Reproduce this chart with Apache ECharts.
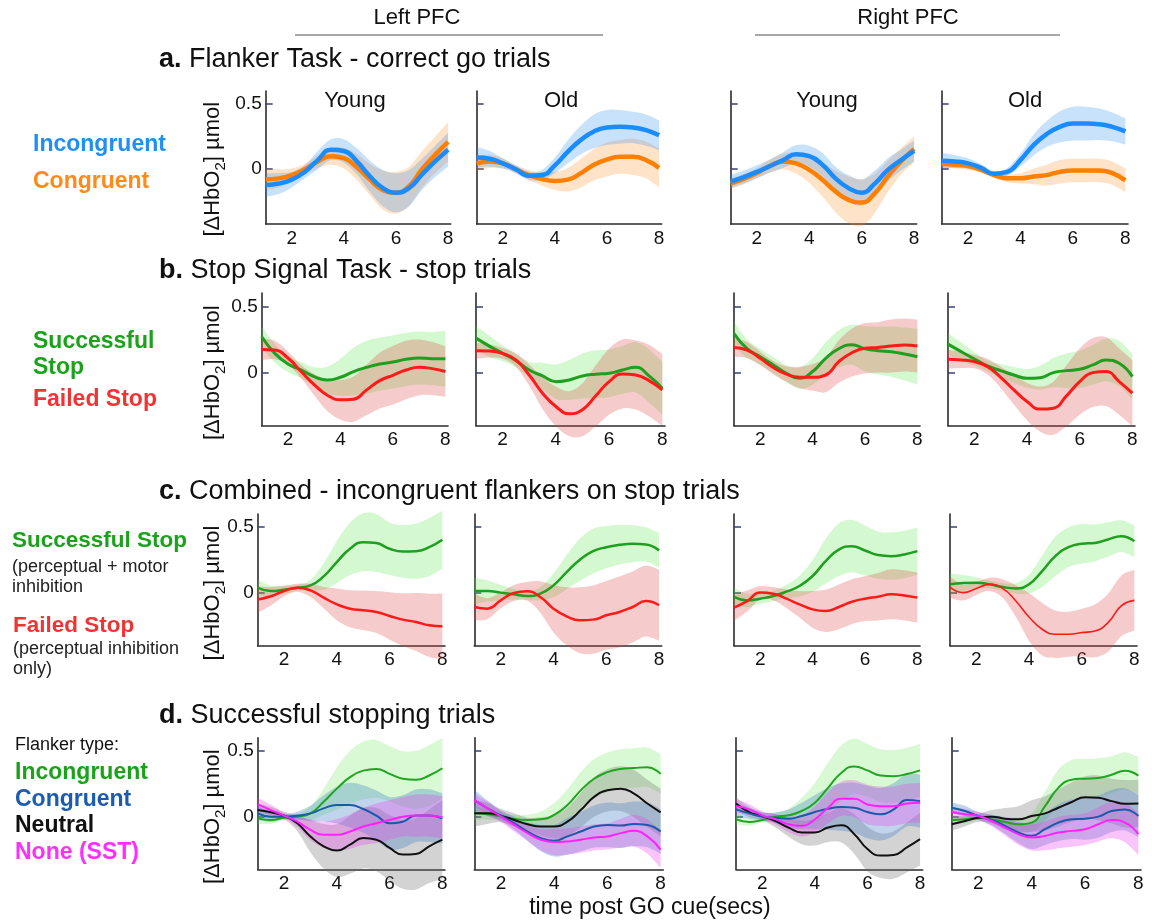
<!DOCTYPE html>
<html><head><meta charset="utf-8">
<script src="https://cdn.jsdelivr.net/npm/echarts@6/dist/echarts.min.js"></script>
<style>html,body{margin:0;padding:0;background:#fff}#c{width:1152px;height:923px}</style>
</head><body><div id="c"></div>
<script>
// ---------------- DATA ----------------
const xs = [1,1.5,2,2.5,3,3.5,4,4.5,5,5.5,6,6.5,7,7.5,8];
const xTicks = [2,4,6,8];
const yTicks = [0,0.5];
const regionNames = ['Left PFC','Right PFC'];
const colTitles = ['Young','Old','Young','Old'];
const rowTitles = [['a.',' Flanker Task - correct go trials'],['b.',' Stop Signal Task - stop trials'],['c.',' Combined - incongruent flankers on stop trials'],['d.',' Successful stopping trials']];
const yNameParts = ['[ΔHbO', '2', '] µmol'];
const xName = 'time post GO cue(secs)';

// row a: Flanker task (blue = incongruent, orange = congruent); one array per panel
const aIncMean = [
 [-0.12,-0.11,-0.08,-0.02,0.07,0.15,0.14,0.06,-0.055,-0.145,-0.18,-0.145,-0.04,0.06,0.15],
 [0.09,0.08,0.045,0,-0.05,-0.045,0.03,0.135,0.225,0.29,0.32,0.325,0.32,0.3,0.26],
 [-0.095,-0.06,-0.02,0.025,0.07,0.115,0.1,0.035,-0.07,-0.145,-0.18,-0.11,-0.005,0.07,0.14],
 [0.065,0.06,0.045,0.01,-0.035,-0.02,0.07,0.185,0.27,0.325,0.35,0.35,0.345,0.325,0.29]];
const aIncErr = [
 [0.09,0.08,0.06,0.05,0.07,0.08,0.09,0.1,0.12,0.14,0.15,0.14,0.12,0.12,0.13],
 [0.08,0.06,0.04,0.03,0.03,0.04,0.06,0.09,0.11,0.13,0.135,0.13,0.12,0.12,0.115],
 [0.05,0.05,0.05,0.05,0.06,0.07,0.08,0.09,0.09,0.1,0.1,0.1,0.09,0.08,0.08],
 [0.06,0.05,0.04,0.03,0.02,0.03,0.05,0.08,0.1,0.12,0.13,0.13,0.12,0.11,0.1]];
const aConMean = [
 [-0.077,-0.07,-0.045,0,0.06,0.1,0.085,0.015,-0.08,-0.16,-0.18,-0.13,0,0.11,0.21],
 [0.045,0.06,0.045,0,-0.045,-0.075,-0.09,-0.08,-0.03,0.035,0.075,0.095,0.095,0.07,0.01],
 [-0.11,-0.075,-0.03,0.025,0.06,0.045,-0.005,-0.08,-0.17,-0.235,-0.255,-0.185,-0.055,0.06,0.155],
 [0.04,0.035,0.025,-0.005,-0.045,-0.07,-0.07,-0.055,-0.045,-0.02,-0.01,-0.01,-0.01,-0.03,-0.085]];
const aConErr = [
 [0.08,0.07,0.05,0.04,0.05,0.065,0.08,0.1,0.12,0.15,0.16,0.15,0.14,0.14,0.15],
 [0.06,0.05,0.04,0.03,0.04,0.05,0.07,0.09,0.11,0.12,0.13,0.13,0.14,0.14,0.15],
 [0.04,0.04,0.04,0.05,0.06,0.08,0.1,0.13,0.16,0.18,0.18,0.15,0.12,0.1,0.1],
 [0.03,0.03,0.03,0.02,0.02,0.03,0.04,0.06,0.08,0.09,0.09,0.09,0.09,0.09,0.09]];

// row b: stop signal task (green = successful stop, red = failed stop)
const bSucMean = [
 [0.27,0.145,0.065,0.02,-0.03,-0.055,-0.035,0.008,0.04,0.065,0.08,0.1,0.11,0.105,0.105],
 [0.26,0.2,0.145,0.09,0.02,-0.025,-0.068,-0.055,-0.025,-0.012,-0.005,0.02,0.04,-0.025,-0.118],
 [0.295,0.18,0.12,0.058,-0.005,-0.043,0.008,0.108,0.18,0.21,0.18,0.165,0.158,0.14,0.12],
 [0.215,0.158,0.103,0.05,0.015,-0.018,-0.043,-0.038,0,0.015,0.025,0.058,0.095,0.07,-0.03]];
const bSucErr = [
 [0.08,0.07,0.06,0.06,0.07,0.1,0.14,0.18,0.2,0.2,0.2,0.2,0.2,0.2,0.21],
 [0.09,0.08,0.06,0.05,0.06,0.1,0.13,0.15,0.17,0.18,0.18,0.18,0.19,0.2,0.2],
 [0.09,0.07,0.06,0.06,0.06,0.08,0.1,0.12,0.14,0.15,0.17,0.18,0.19,0.2,0.21],
 [0.08,0.07,0.05,0.04,0.05,0.06,0.07,0.09,0.11,0.13,0.14,0.15,0.16,0.17,0.17]];
const bFaiMean = [
 [0.175,0.17,0.11,0.008,-0.09,-0.17,-0.205,-0.2,-0.13,-0.06,-0.02,0.02,0.04,0.03,0.008],
 [0.165,0.163,0.145,0.095,-0.018,-0.155,-0.255,-0.31,-0.28,-0.175,-0.068,-0.01,-0.018,-0.06,-0.13],
 [0.19,0.17,0.108,0.038,-0.012,-0.035,-0.035,-0.018,0.083,0.15,0.183,0.19,0.2,0.208,0.2],
 [0.1,0.095,0.083,0.045,-0.035,-0.13,-0.218,-0.275,-0.268,-0.175,-0.068,0,0.008,-0.068,-0.155]];
const bFaiErr = [
 [0.08,0.07,0.05,0.05,0.08,0.12,0.15,0.17,0.19,0.21,0.22,0.22,0.21,0.2,0.19],
 [0.06,0.05,0.04,0.05,0.08,0.12,0.15,0.17,0.2,0.23,0.25,0.26,0.26,0.27,0.27],
 [0.07,0.06,0.05,0.05,0.06,0.08,0.1,0.13,0.16,0.18,0.19,0.19,0.2,0.2,0.2],
 [0.07,0.06,0.05,0.06,0.08,0.11,0.14,0.17,0.2,0.23,0.25,0.26,0.26,0.25,0.25]];

// row c: combined (green = successful stop, red = failed stop)
const cSucMean = [
 [0.04,0.015,0.025,0.04,0.058,0.126,0.235,0.336,0.386,0.379,0.336,0.316,0.318,0.348,0.404],
 [0.015,0.015,0.003,-0.01,-0.023,-0.005,0.058,0.159,0.253,0.318,0.348,0.366,0.374,0.369,0.323],
 [-0.03,-0.056,-0.043,-0.023,0.01,0.053,0.129,0.242,0.33,0.356,0.323,0.288,0.28,0.293,0.318],
 [0.066,0.076,0.078,0.066,0.045,0.035,0.066,0.167,0.28,0.348,0.374,0.38,0.407,0.432,0.394]];
const cSucErr = [
 [0.06,0.04,0.03,0.02,0.04,0.1,0.16,0.2,0.22,0.22,0.2,0.2,0.21,0.22,0.22],
 [0.1,0.08,0.06,0.04,0.03,0.05,0.09,0.13,0.16,0.17,0.16,0.15,0.14,0.13,0.13],
 [0.07,0.05,0.04,0.04,0.05,0.08,0.12,0.17,0.2,0.2,0.19,0.18,0.18,0.18,0.18],
 [0.08,0.06,0.04,0.03,0.03,0.04,0.07,0.12,0.15,0.15,0.15,0.14,0.13,0.12,0.12]];
const cFaiMean = [
 [-0.05,-0.025,0.015,0.04,0.02,-0.035,-0.086,-0.119,-0.131,-0.144,-0.174,-0.202,-0.22,-0.245,-0.253],
 [-0.106,-0.119,-0.056,0,0.013,-0.03,-0.119,-0.177,-0.207,-0.202,-0.169,-0.144,-0.106,-0.061,-0.093],
 [-0.111,-0.061,0.003,-0.005,-0.043,-0.086,-0.124,-0.136,-0.106,-0.066,-0.043,-0.028,-0.01,-0.018,-0.035],
 [0.045,0.003,0.035,0.066,0.035,-0.061,-0.182,-0.275,-0.313,-0.313,-0.3,-0.288,-0.225,-0.098,-0.056]];
const cFaiErr = [
 [0.1,0.07,0.04,0.03,0.05,0.08,0.12,0.14,0.15,0.16,0.18,0.2,0.22,0.24,0.25],
 [0.1,0.08,0.06,0.06,0.07,0.12,0.18,0.22,0.25,0.26,0.26,0.27,0.27,0.27,0.27],
 [0.1,0.08,0.05,0.05,0.07,0.1,0.14,0.16,0.17,0.17,0.17,0.18,0.19,0.19,0.19],
 [0.08,0.06,0.05,0.05,0.07,0.12,0.18,0.2,0.18,0.17,0.18,0.2,0.22,0.23,0.23]];

// row d: successful stopping by flanker type
const dIncMean = [
 [-0.013,-0.025,-0.008,0,0.025,0.113,0.213,0.3,0.35,0.363,0.325,0.288,0.28,0.313,0.368],
 [0.025,0.018,0,-0.018,-0.025,-0.02,0.013,0.088,0.2,0.288,0.338,0.363,0.37,0.375,0.325],
 [-0.02,-0.04,-0.025,0,0.01,0.043,0.106,0.219,0.332,0.382,0.352,0.312,0.307,0.324,0.352],
 [-0.025,-0.02,-0.008,-0.02,-0.04,-0.058,-0.045,0.08,0.219,0.281,0.289,0.294,0.319,0.349,0.312]];
const dIncErr = [
 [0.04,0.03,0.02,0.02,0.05,0.1,0.16,0.2,0.22,0.22,0.21,0.21,0.22,0.23,0.23],
 [0.05,0.04,0.03,0.03,0.04,0.06,0.09,0.12,0.14,0.15,0.15,0.15,0.15,0.15,0.15],
 [0.04,0.03,0.02,0.03,0.05,0.1,0.15,0.19,0.21,0.21,0.2,0.2,0.2,0.2,0.2],
 [0.03,0.03,0.02,0.03,0.04,0.05,0.07,0.11,0.14,0.15,0.15,0.15,0.14,0.14,0.14]];
const dConMean = [
 [0.025,0,0,0.008,0.025,0.063,0.088,0.088,0.058,0.008,-0.05,-0.038,0.008,0.008,-0.013],
 [0.125,0.063,0.008,-0.05,-0.113,-0.163,-0.183,-0.15,-0.113,-0.075,-0.063,-0.068,-0.055,-0.063,-0.113],
 [0.055,0.025,0,-0.008,-0.015,0.005,0.035,0.06,0.073,0.068,0.035,0.018,0.055,0.126,0.118],
 [0.068,0.043,0.005,-0.025,-0.07,-0.12,-0.146,-0.095,-0.045,-0.02,-0.015,0,0.043,0.055,0.005]];
const dConErr = [
 [0.05,0.04,0.02,0.03,0.06,0.1,0.14,0.17,0.18,0.19,0.2,0.2,0.2,0.2,0.19],
 [0.08,0.06,0.04,0.05,0.07,0.1,0.12,0.14,0.15,0.16,0.17,0.17,0.17,0.17,0.17],
 [0.05,0.04,0.03,0.04,0.07,0.1,0.13,0.16,0.18,0.19,0.2,0.2,0.2,0.2,0.2],
 [0.04,0.04,0.03,0.04,0.06,0.08,0.1,0.12,0.14,0.15,0.16,0.16,0.16,0.16,0.16]];
const dNeuMean = [
 [0.05,0.033,0.008,-0.05,-0.15,-0.225,-0.258,-0.213,-0.163,-0.175,-0.238,-0.288,-0.283,-0.225,-0.175],
 [0.025,0.025,0.008,-0.025,-0.058,-0.075,-0.075,-0.038,0.05,0.15,0.2,0.213,0.175,0.1,0.033],
 [0.1,0.035,0.005,-0.033,-0.083,-0.12,-0.12,-0.083,-0.065,-0.133,-0.246,-0.296,-0.291,-0.234,-0.171],
 [-0.058,-0.033,-0.008,0,-0.015,-0.02,0.005,0.025,0.068,0.111,0.148,0.143,0.118,0.098,0.1]];
const dNeuErr = [
 [0.05,0.04,0.03,0.06,0.12,0.17,0.2,0.22,0.23,0.24,0.25,0.26,0.27,0.28,0.3],
 [0.1,0.08,0.05,0.05,0.05,0.07,0.09,0.11,0.13,0.15,0.16,0.17,0.18,0.18,0.18],
 [0.05,0.04,0.03,0.05,0.07,0.09,0.1,0.11,0.13,0.15,0.17,0.17,0.18,0.19,0.2],
 [0.05,0.04,0.03,0.05,0.08,0.1,0.12,0.13,0.14,0.15,0.16,0.17,0.17,0.18,0.18]];
const dNonMean = [
 [0.093,0.05,0.008,-0.038,-0.1,-0.138,-0.138,-0.113,-0.075,-0.05,-0.025,0,0.008,0.008,-0.005],
 [0.125,0.063,0,-0.063,-0.125,-0.175,-0.193,-0.188,-0.175,-0.158,-0.15,-0.125,-0.108,-0.15,-0.25],
 [0.08,0.055,0.01,-0.02,-0.058,-0.07,-0.02,0.068,0.136,0.136,0.093,0.08,0.08,0.1,0.106],
 [0.035,0.018,0.005,-0.033,-0.083,-0.133,-0.158,-0.146,-0.12,-0.108,-0.095,-0.058,-0.025,-0.045,-0.133]];
const dNonErr = [
 [0.05,0.04,0.02,0.04,0.08,0.1,0.12,0.13,0.14,0.15,0.15,0.15,0.16,0.16,0.16],
 [0.05,0.05,0.04,0.05,0.06,0.08,0.1,0.1,0.1,0.1,0.1,0.11,0.12,0.13,0.14],
 [0.05,0.04,0.03,0.04,0.06,0.08,0.1,0.12,0.13,0.14,0.15,0.15,0.15,0.15,0.15],
 [0.04,0.04,0.03,0.04,0.06,0.08,0.1,0.11,0.12,0.12,0.12,0.13,0.14,0.15,0.16]];

// ---------------- LAYOUT / STYLE ----------------
const FONT = '"Liberation Sans", Arial, Helvetica, sans-serif';
const rowBox = [
 {top:91,bottom:224,min:-0.42,cols:[[265.7,450.7],[476.7,661.7],[730.7,916.7],[941.7,1128]]},
 {top:293,bottom:425.7,min:-0.4,cols:[[261.7,448],[476,665],[734,920],[948,1135]]},
 {top:514,bottom:645.7,min:-0.4,cols:[[257.7,445],[474.3,661.7],[734,920],[950,1137]]},
 {top:737.7,bottom:869.3,min:-0.4,cols:[[257.7,445],[474.3,663.3],[736,922.7],[951.7,1141]]}
];
const YMAX = 0.6, XMAX = 8.1;
const GREEN_BAND = 'rgba(90,228,70,0.26)', RED_BAND = 'rgba(222,70,70,0.28)';
const rowGroups = [
 {lw:4.5, groups:[
   {mean:aConMean, err:aConErr, line:'#ff8000', band:'rgba(255,145,40,0.25)'},
   {mean:aIncMean, err:aIncErr, line:'#1a8cff', band:'rgba(40,140,240,0.25)'}]},
 {lw:3, groups:[
   {mean:bSucMean, err:bSucErr, line:'#1f9e1f', band:GREEN_BAND},
   {mean:bFaiMean, err:bFaiErr, line:'#ff1a1a', band:RED_BAND}]},
 {lw:2.5, groups:[
   {mean:cSucMean, err:cSucErr, line:'#1f9e1f', band:GREEN_BAND},
   {mean:cFaiMean, err:cFaiErr, line:'#ff1a1a', band:RED_BAND, thinCols:[3]}]},
 {lw:2, groups:[
   {mean:dIncMean, err:dIncErr, line:'#1fa51f', band:'rgba(90,228,70,0.24)'},
   {mean:dNeuMean, err:dNeuErr, line:'#111111', band:'rgba(110,110,110,0.3)'},
   {mean:dConMean, err:dConErr, line:'#1a5aa8', band:'rgba(60,125,195,0.32)'},
   {mean:dNonMean, err:dNonErr, line:'#ff22ff', band:'rgba(235,60,235,0.3)'}]}
];

function curve(p){
  let s = '';
  for (let i = 0; i < p.length - 1; i++) {
    const p0 = p[Math.max(i-1,0)], p1 = p[i], p2 = p[i+1], p3 = p[Math.min(i+2,p.length-1)];
    const c1 = [p1[0]+(p2[0]-p0[0])/6, p1[1]+(p2[1]-p0[1])/6];
    const c2 = [p2[0]-(p3[0]-p1[0])/6, p2[1]-(p3[1]-p1[1])/6];
    s += ' C' + c1[0] + ' ' + c1[1] + ' ' + c2[0] + ' ' + c2[1] + ' ' + p2[0] + ' ' + p2[1];
  }
  return s;
}

const grids = [], xAxes = [], yAxes = [], series = [], graphics = [];
rowGroups.forEach((rg, r) => {
  const rb = rowBox[r];
  for (let c = 0; c < 4; c++) {
    const gi = r*4 + c;
    const [L, R] = rb.cols[c];
    grids.push({left:L, top:rb.top, width:R-L, height:rb.bottom-rb.top, containLabel:false});
    xAxes.push({type:'value', gridIndex:gi, min:1, max:XMAX,
      axisLine:{show:true, onZero:false, lineStyle:{color:'#2b2b2b', width:1.6}},
      axisTick:{show:false}, splitLine:{show:false},
      axisLabel:{customValues:xTicks, fontSize:19, color:'#111', margin:5, fontFamily:FONT}});
    yAxes.push({type:'value', gridIndex:gi, min:rb.min, max:YMAX,
      axisLine:{show:true, onZero:false, lineStyle:{color:'#2b2b2b', width:1.6}},
      axisTick:{show:true, inside:true, length:7, customValues:yTicks, lineStyle:{color:'#3a4170', width:1.5}},
      splitLine:{show:false},
      axisLabel:{show:c===0, customValues:yTicks, fontSize:19, color:'#111', margin:4, fontFamily:FONT,
        formatter: v => (v === 0 ? '0' : String(v))}});
    rg.groups.forEach(g => {
      const m = g.mean[c], e = g.err[c];
      const lo = m.map((v,i) => v - e[i]), hi = m.map((v,i) => v + e[i]);
      series.push({type:'custom', xAxisIndex:gi, yAxisIndex:gi, silent:true, z:1,
        data: xs.map((x,i) => [x, lo[i], hi[i]]),
        renderItem: function(params, api){
          if (params.dataIndex !== 0) return null;
          const up = xs.map((x,i) => api.coord([x, hi[i]]));
          const dn = xs.map((x,i) => api.coord([x, lo[i]])).reverse();
          const d = 'M' + up[0][0] + ' ' + up[0][1] + curve(up) + ' L' + dn[0][0] + ' ' + dn[0][1] + curve(dn) + ' Z';
          return {type:'path', shape:{pathData:d}, style:{fill:g.band}, silent:true};
        }});
    });
    rg.groups.forEach(g => {
      const w = (g.thinCols && g.thinCols.indexOf(c) >= 0) ? 1.6 : rg.lw;
      series.push({type:'line', xAxisIndex:gi, yAxisIndex:gi, z:3, silent:true,
        data: xs.map((x,i) => [x, g.mean[c][i]]), smooth:0.5, symbol:'none', showSymbol:false,
        lineStyle:{color:g.line, width:w}});
    });
  }
  // y axis name for the row (left panel)
  const zeroY = rb.bottom - (0 - rb.min) / (YMAX - rb.min) * (rb.bottom - rb.top);
  graphics.push({type:'text', x:213, y:zeroY, rotation:Math.PI/2,
    style:{text:'{m|' + yNameParts[0] + '}{s|' + yNameParts[1] + '}{m|' + yNameParts[2] + '}',
      fontFamily:FONT, fontSize:22, fill:'#111', align:'center', verticalAlign:'middle',
      rich:{m:{fontSize:22, fontFamily:FONT, fill:'#111', lineHeight:30, verticalAlign:'middle'},
            s:{fontSize:15, fontFamily:FONT, fill:'#111', lineHeight:15, verticalAlign:'bottom'}}}});
});

function txt(x, y, text, size, color, weight, align){
  graphics.push({type:'text', x:x, y:y, style:{text:text, fontFamily:FONT, fontSize:size, fill:color,
    fontWeight:weight || 'normal', align:align || 'left', verticalAlign:'middle'}});
}
// headers
txt(417, 18, regionNames[0], 22, '#111', 'normal', 'center');
txt(908, 18, regionNames[1], 22, '#111', 'normal', 'center');
graphics.push({type:'line', shape:{x1:295, y1:35, x2:603, y2:35}, style:{stroke:'#8a8a8a', lineWidth:1.5}});
graphics.push({type:'line', shape:{x1:755, y1:35, x2:1060, y2:35}, style:{stroke:'#8a8a8a', lineWidth:1.5}});
// row titles
const titleY = [60, 271, 492, 716];
rowTitles.forEach((t, i) => {
  graphics.push({type:'text', x:159, y:titleY[i], style:{text:'{b|' + t[0] + '}{n|' + t[1] + '}', fontFamily:FONT, fontSize:27, fill:'#111',
    verticalAlign:'middle', align:'left',
    rich:{b:{fontWeight:'bold', fontSize:27, fontFamily:FONT, fill:'#111'}, n:{fontSize:27, fontFamily:FONT, fill:'#111'}}}});
});
// column titles
const colTitleX = [355, 561, 827, 1025];
colTitles.forEach((t, i) => txt(colTitleX[i], 101, t, 22, '#111', 'normal', 'center'));
// left legends
txt(33, 145, 'Incongruent', 23, '#1e8ff7', 'bold');
txt(33, 182, 'Congruent', 23, '#ff8a1a', 'bold');
txt(33, 342, 'Successful', 23, '#1aa31a', 'bold');
txt(33, 368, 'Stop', 23, '#1aa31a', 'bold');
txt(33, 400, 'Failed Stop', 23, '#f03434', 'bold');
txt(12, 541, 'Successful Stop', 22.5, '#1aa31a', 'bold');
txt(12, 567, '(perceptual + motor', 18, '#222');
txt(12, 587, 'inhibition', 18, '#222');
txt(13, 626, 'Failed Stop', 22.5, '#f03434', 'bold');
txt(13, 649, '(perceptual inhibition', 18, '#222');
txt(13, 669, 'only)', 18, '#222');
txt(15, 745, 'Flanker type:', 18, '#111');
txt(15, 773, 'Incongruent', 23, '#1aa31a', 'bold');
txt(15, 800, 'Congruent', 23, '#1c5cae', 'bold');
txt(15, 826, 'Neutral', 23, '#111', 'bold');
txt(15, 853, 'None (SST)', 23, '#ff2eff', 'bold');
// x axis name
txt(650, 908, xName, 23, '#111', 'normal', 'center');

const chart = echarts.init(document.getElementById('c'), null, {renderer:'canvas'});
chart.setOption({animation:false, backgroundColor:'#fff', grid:grids, xAxis:xAxes, yAxis:yAxes, series:series, graphic:graphics});
</script></body></html>
